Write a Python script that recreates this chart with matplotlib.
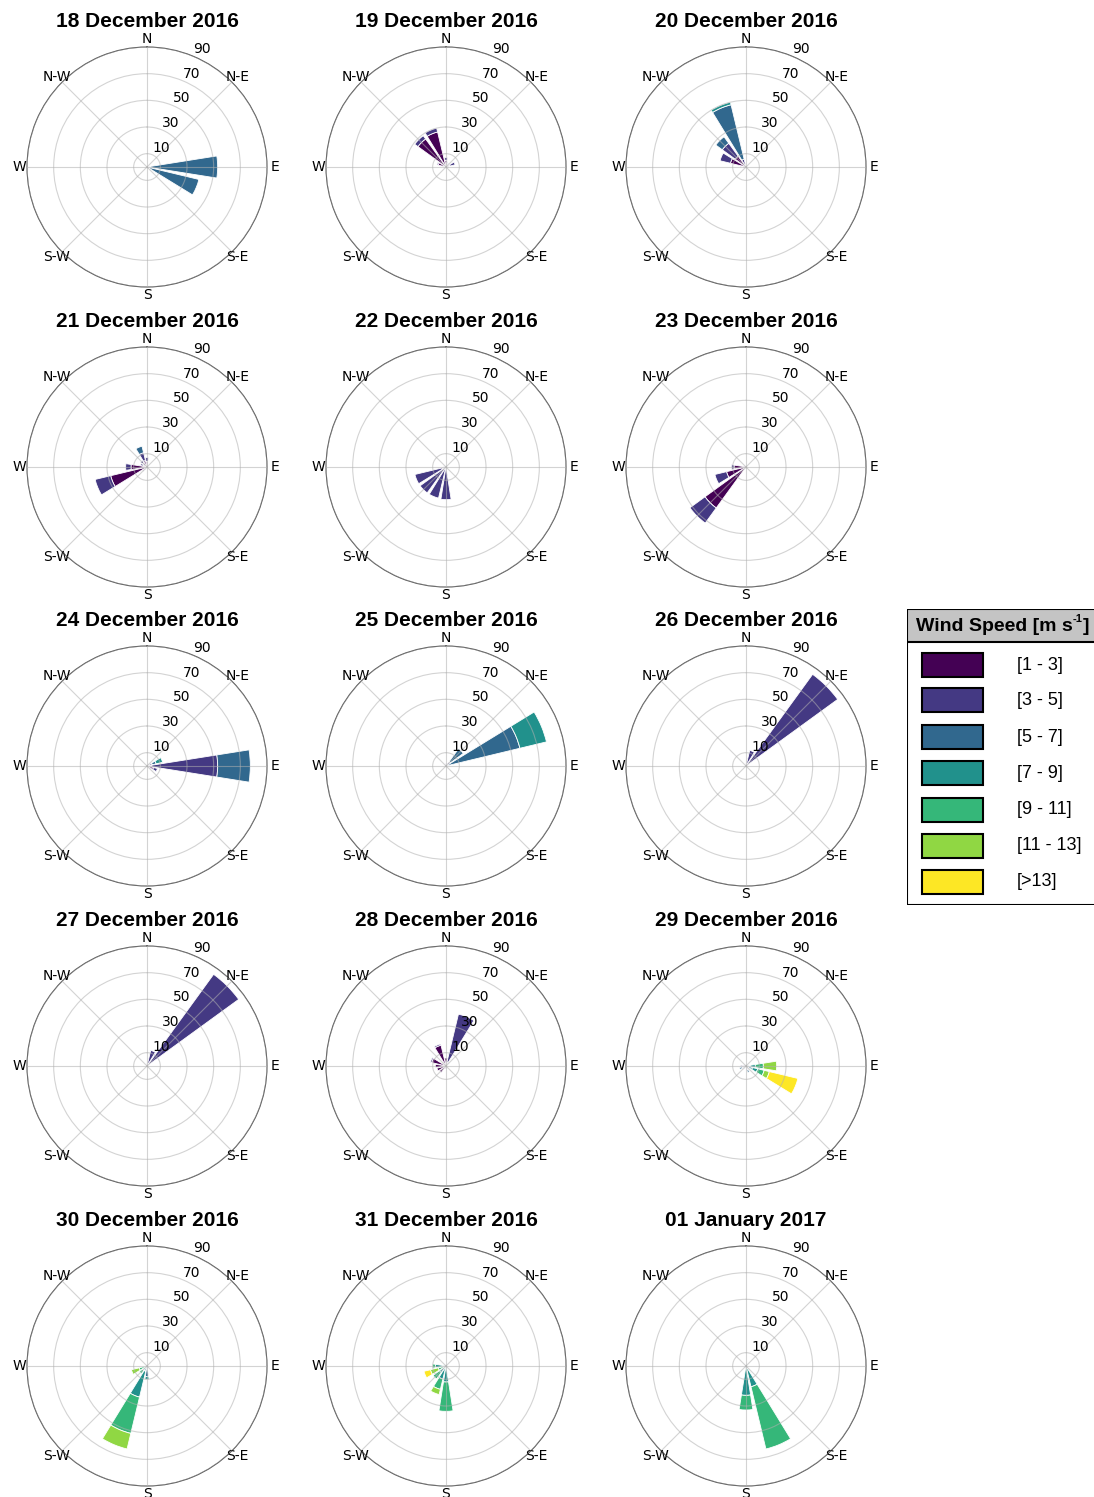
import numpy as np
import matplotlib
matplotlib.use('Agg')
import matplotlib.pyplot as plt
from matplotlib.patches import Rectangle

titles = ['18 December 2016', '19 December 2016', '20 December 2016',
          '21 December 2016', '22 December 2016', '23 December 2016',
          '24 December 2016', '25 December 2016', '26 December 2016',
          '27 December 2016', '28 December 2016', '29 December 2016',
          '30 December 2016', '31 December 2016', '01 January 2017']
sectors = ['N', 'NNE', 'NE', 'ENE', 'E', 'ESE', 'SE', 'SSE',
           'S', 'SSW', 'SW', 'WSW', 'W', 'WNW', 'NW', 'NNW']
speed_labels = ['[1 - 3]', '[3 - 5]', '[5 - 7]', '[7 - 9]', '[9 - 11]', '[11 - 13]', '[>13]']
compass = ['N', 'N-E', 'E', 'S-E', 'S', 'S-W', 'W', 'N-W']

# frequency (%) per sector, split by speed class [1-3 ... >13]
dec18 = {'E': [0.5, 2, 50.5], 'ESE': [0.5, 1.5, 38], 'ENE': [1, 0.5]}
dec19 = {'NNW': [27, 3], 'NW': [26, 3], 'N': [5, 2], 'ENE': [3, 4],
         'WNW': [6, 1], 'NNE': [3, 1], 'E': [2, 1]}
dec20 = {'NNW': [2, 4, 42, 2], 'NW': [10, 12, 6], 'WNW': [12, 8], 'W': [3, 1]}
dec21 = {'WSW': [28, 12], 'W': [12, 4], 'NNW': [5, 6, 5], 'N': [4, 3],
         'NW': [4, 2], 'SW': [3, 1], 'WNW': [3, 2]}
dec22 = {'WSW': [3, 21], 'SW': [1, 23], 'SSW': [0.5, 23.5], 'S': [0.5, 24], 'W': [1, 1]}
dec23 = {'SW': [38, 14], 'WSW': [15, 9], 'W': [9, 2], 'S': [1]}
dec24 = {'E': [3, 50, 24.5], 'ENE': [1, 3, 3, 5], 'ESE': [5, 3]}
dec25 = {'ENE': [0, 2, 55, 20.5], 'NE': [0, 4, 12], 'N': [1, 1]}
dec26 = {'NE': [2, 83], 'NNE': [2, 10], 'N': [1, 1]}
dec27 = {'NE': [2, 83], 'NNE': [2, 10], 'N': [1, 1]}
dec28 = {'NNE': [3, 37], 'NNW': [16, 1], 'WNW': [11, 1], 'W': [8], 'WSW': [7],
         'SW': [6], 'N': [6], 'S': [3]}
dec29 = {'ESE': [0, 2, 3, 4, 5, 4, 22], 'E': [0, 0, 3, 4, 6, 10], 'SSE': [1, 2, 2],
         'W': [2, 2], 'WSW': [1, 2, 2], 'SW': [1, 2]}
dec30 = {'SSW': [0, 0, 4, 20, 28, 12], 'S': [0, 2, 6, 2], 'WSW': [0, 0, 0, 2, 4, 6],
         'SW': [0, 0, 2, 2, 3]}
dec31 = {'S': [0, 0, 2, 10, 22], 'SSW': [0, 0, 2, 8, 8, 4], 'WSW': [0, 0, 0, 2, 4, 6, 5],
         'W': [0, 0, 2, 6, 2], 'SW': [0, 0, 2, 4, 6]}
jan01 = {'SSE': [0, 0, 2, 14, 48], 'S': [0, 0, 2, 20, 11]}

days = [dec18, dec19, dec20, dec21, dec22, dec23, dec24, dec25,
        dec26, dec27, dec28, dec29, dec30, dec31, jan01]

colors = plt.cm.viridis(np.linspace(0, 1, len(speed_labels)))

W, H = 1094, 1497
fig = plt.figure(figsize=(W / 100, H / 100), dpi=100)

xs = [147, 446, 746]
ys = [167, 467, 766, 1066, 1366]
rad = 120
width = np.radians(360 / len(sectors)) * 0.8

for i, (title, day) in enumerate(zip(titles, days)):
    cx = xs[i % 3]
    cy = ys[i // 3]
    ax = fig.add_axes([(cx - rad) / W, 1 - (cy + rad) / H, 2 * rad / W, 2 * rad / H],
                      projection='polar')
    ax.set_theta_zero_location('N')
    ax.set_theta_direction(-1)
    for name, vals in day.items():
        theta = np.radians(sectors.index(name) * 22.5)
        bottom = 0
        for k, v in enumerate(vals):
            if v > 0:
                ax.bar(theta, v, width=width, bottom=bottom, color=colors[k],
                       edgecolor='white', linewidth=0.6)
            bottom += v
    ax.set_ylim(0, 90)
    ax.set_rgrids([10, 30, 50, 70, 90], labels=['10', '30', '50', '70', '90'], fontsize=10)
    ax.set_thetagrids(np.arange(0, 360, 45), labels=compass, fontsize=10)
    ax.set_axisbelow(False)
    ax.grid(True, color='#b0b0b0', alpha=0.55, linewidth=0.8)
    ax.spines['polar'].set_color('#555555')
    ax.spines['polar'].set_linewidth(0.8)
    ax.tick_params(axis='x', pad=-5)
    ax.set_title(title, fontsize=15, fontweight='bold', family='Liberation Sans', pad=4)

# legend panel
lax = fig.add_axes([907 / W, 1 - 905 / H, 200 / W, 296 / H])
lax.set_xlim(0, 200)
lax.set_ylim(296, 0)
lax.axis('off')
lax.add_patch(Rectangle((0, 0), 200, 296, facecolor='white', edgecolor='black', lw=1.5))
lax.add_patch(Rectangle((0, 0), 200, 33, facecolor='#c4c4c4', edgecolor='black', lw=1.5))
t1 = lax.text(9, 17, 'Wind Speed [m s', fontsize=14, fontweight='bold',
              family='Liberation Sans', va='center', ha='left')
t2 = lax.annotate('-1', xy=(1, 0.62), xycoords=t1, fontsize=8, fontweight='bold',
                  family='Liberation Sans', va='bottom', ha='left')
lax.annotate(']', xy=(1, 0), xycoords=(t2, t1), fontsize=14, fontweight='bold',
             family='Liberation Sans', va='bottom', ha='left')
row_y = [56, 91, 128, 164, 201, 237, 273]
for k, lab in enumerate(speed_labels):
    lax.add_patch(Rectangle((15, row_y[k] - 12), 61, 24, facecolor=colors[k],
                            edgecolor='black', lw=1.5))
    lax.text(110, row_y[k], lab, fontsize=13, family='Liberation Sans',
             va='center', ha='left')

plt.savefig('out.png', dpi=100)
